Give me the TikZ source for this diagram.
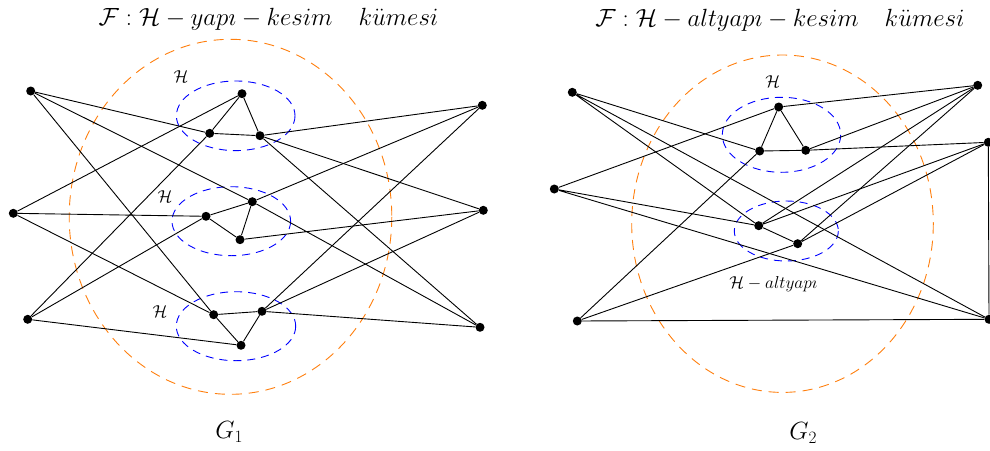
\documentclass[tikz,border=0pt]{standalone}
\usepackage{amssymb}
\definecolor{orangec}{RGB}{255,127,14}
\begin{document}
\begin{tikzpicture}[x=1pt,y=-1pt,
  dot/.style={circle,fill=black,inner sep=0pt,minimum size=9pt},
  edge/.style={line width=0.9pt},
  outer/.style={draw=orangec,dash pattern=on 10pt off 7pt,line width=0.9pt},
  inner/.style={draw=blue,dash pattern=on 8pt off 6pt,line width=0.9pt},
  big/.style={font=\fontsize{26}{30}\selectfont},
  small/.style={font=\fontsize{19}{22}\selectfont}]
\useasboundingbox (0,0) rectangle (990,450);
% ---------- G1 ----------
\draw[outer] (230.5,216.8) ellipse [x radius=161.3, y radius=177.5];
\draw[inner] (235.7,115.8) ellipse [x radius=59.3, y radius=34.8];
\draw[inner] (231.3,221.2) ellipse [x radius=59.3, y radius=34.5];
\draw[inner] (236,326.2) ellipse [x radius=59.7, y radius=34.5];
\node[small] (h1) at (181,77) {$\mathcal{H}$};
\node[small] (h2) at (165,197) {$\mathcal{H}$};
\node[small] (h3) at (160,312) {$\mathcal{H}$};
\node[big] (t1) at (268.5,19) {$\mathcal{F}:\mathcal{H}-yap\imath-kesim\quad k\ddot{u}mesi$};
\node[big] (g1) at (229.3,432) {$G_1$};

\node[dot] (aL1) at (30.7,91) {};
\node[dot] (aL2) at (13.3,213.3) {};
\node[dot] (aL3) at (27.7,319.3) {};
\node[dot] (aR1) at (482.3,105.3) {};
\node[dot] (aR2) at (483.3,210.3) {};
\node[dot] (aR3) at (480,327.3) {};
\node[dot] (aa) at (242,93.7) {};
\node[dot] (ab) at (209.7,133.3) {};
\node[dot] (ac) at (260,135.7) {};
\node[dot] (ad) at (252.3,201.7) {};
\node[dot] (ae) at (206,216.3) {};
\node[dot] (af) at (240,239.7) {};
\node[dot] (ag) at (213.7,314.7) {};
\node[dot] (ah) at (262,311.3) {};
\node[dot] (ai) at (241,345.3) {};

\draw[edge] (aL1)--(ab) (aL1)--(ad) (aL1)--(ag);
\draw[edge] (aa)--(ab) (aa)--(ac) (ab)--(ac);
\draw[edge] (aa)--(aL2) (ab)--(aL3);
\draw[edge] (ac)--(aR1) (ac)--(aR2) (ac)--(aR3);
\draw[edge] (ad)--(ae) (ae)--(af) (ad)--(af);
\draw[edge] (aL2)--(ae) (aL2)--(ag) (ae)--(aL3);
\draw[edge] (ad)--(aR1) (ad)--(aR3) (af)--(aR2);
\draw[edge] (ag)--(ah) (ag)--(ai) (ah)--(ai);
\draw[edge] (aL3)--(ai) (ah)--(aR1) (ah)--(aR2) (ah)--(aR3);

% ---------- G2 ----------
\draw[outer] (782.5,223.7) ellipse [x radius=150.8, y radius=168.7];
\draw[inner] (781.5,134.8) ellipse [x radius=59.2, y radius=37.5];
\draw[inner] (786.3,231) ellipse [x radius=52, y radius=30];
\node[small] (h4) at (772.7,82) {$\mathcal{H}$};
\node[small] (h5) at (773.3,284) {$\mathcal{H}-alt yap\imath$};
\node[big] (t2) at (780,20) {$\mathcal{F}:\mathcal{H}-alt yap\imath-kesim\quad k\ddot{u}mesi$};
\node[big] (g2) at (803.3,433) {$G_2$};

\node[dot] (bL1) at (572.3,92.3) {};
\node[dot] (bL2) at (554.3,189) {};
\node[dot] (bL3) at (577.3,321) {};
\node[dot] (bR1) at (977.7,85.3) {};
\node[dot] (bR2) at (988.3,142.3) {};
\node[dot] (bR3) at (989,319.3) {};
\node[dot] (ba) at (778.7,107) {};
\node[dot] (bb) at (759.7,151) {};
\node[dot] (bc) at (805.7,150.3) {};
\node[dot] (bd) at (758.7,225.7) {};
\node[dot] (be) at (797.7,243.7) {};

\draw[edge] (bL1)--(bb) (bL1)--(bd) (bL1)--(bR3);
\draw[edge] (ba)--(bb) (ba)--(bc) (bb)--(bc);
\draw[edge] (ba)--(bL2) (ba)--(bR1) (bb)--(bL3);
\draw[edge] (bc)--(bR1) (bc)--(bR2);
\draw[edge] (bL2)--(bd) (bL2)--(bR3);
\draw[edge] (bd)--(be) (bd)--(bR1) (bd)--(bR2);
\draw[edge] (be)--(bR1) (be)--(bR2) (be)--(bL3);
\draw[edge] (bL3)--(bR3) (bR2)--(bR3);
\end{tikzpicture}
\end{document}
